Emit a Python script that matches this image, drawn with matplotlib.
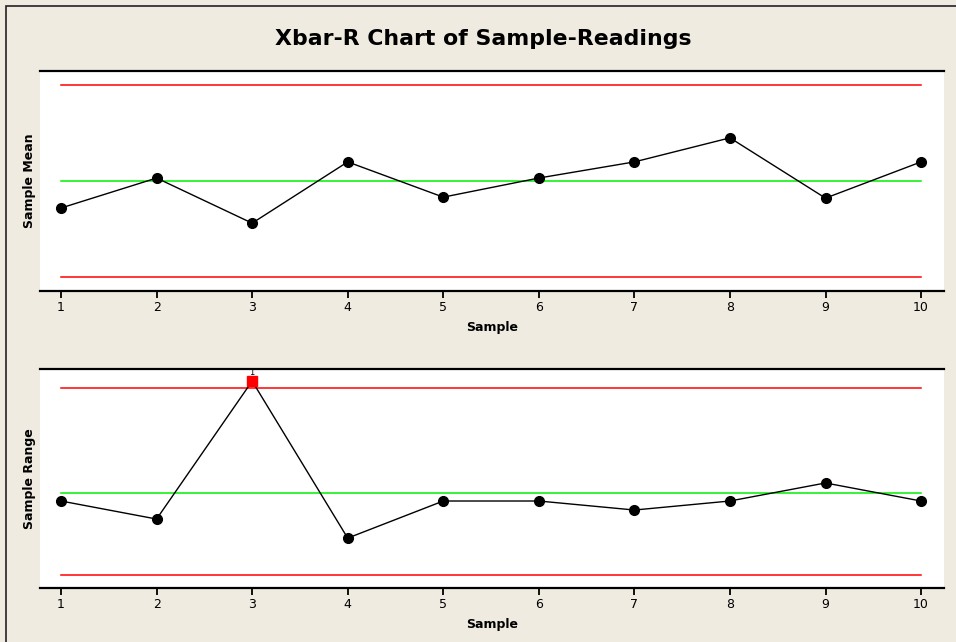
import matplotlib.pyplot as plt
from matplotlib.patches import Rectangle

# data
samples = [1, 2, 3, 4, 5, 6, 7, 8, 9, 10]
means = [49.18, 50.09, 48.72, 50.58, 49.51, 50.09, 50.58, 51.31, 49.48, 50.58]
ranges = [3.61, 2.73, 9.46, 1.80, 3.61, 3.61, 3.17, 3.61, 4.49, 3.61]

xbar_cl, xbar_ucl, xbar_lcl = 50.0, 52.916, 47.084
r_cl, r_ucl, r_lcl = 4.0, 9.128, 0.0

bg = '#EFEBE1'
fig = plt.figure(figsize=(9.56, 6.42), dpi=100, facecolor=bg)

# outer frame
fig.patches.append(Rectangle((6 / 956, -0.1), 1.2, (642 - 6) / 642 + 0.1,
                             transform=fig.transFigure, fill=False,
                             edgecolor='#222222', linewidth=1.2))

fig.text(0.506, 0.94, 'Xbar-R Chart of Sample-Readings', ha='center', va='center',
         fontsize=15.8, fontweight='bold')

ax1 = fig.add_axes([40 / 956, 351 / 642, 904 / 956, 220 / 642])
ax2 = fig.add_axes([40 / 956, 54 / 642, 904 / 956, 219 / 642])


def style(ax, ylabel):
    ax.set_facecolor('white')
    for s in ['left', 'right']:
        ax.spines[s].set_visible(False)
    ax.spines['top'].set_linewidth(1.6)
    ax.spines['bottom'].set_linewidth(1.6)
    ax.set_xlim(0.78, 10.24)
    ax.set_xticks(samples)
    ax.set_yticks([])
    ax.tick_params(axis='x', direction='out', length=5, width=1.3, labelsize=9, pad=2)
    ax.set_xlabel('Sample', fontsize=9, fontweight='bold', labelpad=5)
    ax.set_ylabel(ylabel, fontsize=9, fontweight='bold', labelpad=3)


# Xbar chart
ax1.plot([1, 10], [xbar_ucl, xbar_ucl], color='#FF0000', linewidth=1.1)
ax1.plot([1, 10], [xbar_lcl, xbar_lcl], color='#FF0000', linewidth=1.1)
ax1.plot([1, 10], [xbar_cl, xbar_cl], color='#00F000', linewidth=1.1)
ax1.plot(samples, means, color='black', linewidth=1, marker='o', markersize=7)
ax1.set_ylim(46.66, 53.34)
style(ax1, 'Sample Mean')

# R chart
ax2.plot([1, 10], [r_ucl, r_ucl], color='#FF0000', linewidth=1.1)
ax2.plot([1, 10], [r_lcl, r_lcl], color='#FF0000', linewidth=1.1)
ax2.plot([1, 10], [r_cl, r_cl], color='#00F000', linewidth=1.1)
inside = [i for i, r in enumerate(ranges) if r <= r_ucl]
ax2.plot(samples, ranges, color='black', linewidth=1, marker='o', markersize=7,
         markevery=inside)
for x, r in zip(samples, ranges):
    if r > r_ucl:
        ax2.plot(x, r, marker='s', color='#FF0000', markersize=6.5, zorder=5)
        ax2.annotate('1', (x, r), xytext=(0, 3), textcoords='offset points',
                     ha='center', va='bottom', fontsize=6)
ax2.set_ylim(-0.634, 10.05)
style(ax2, 'Sample Range')

plt.savefig('out.png', dpi=100, facecolor=bg)
